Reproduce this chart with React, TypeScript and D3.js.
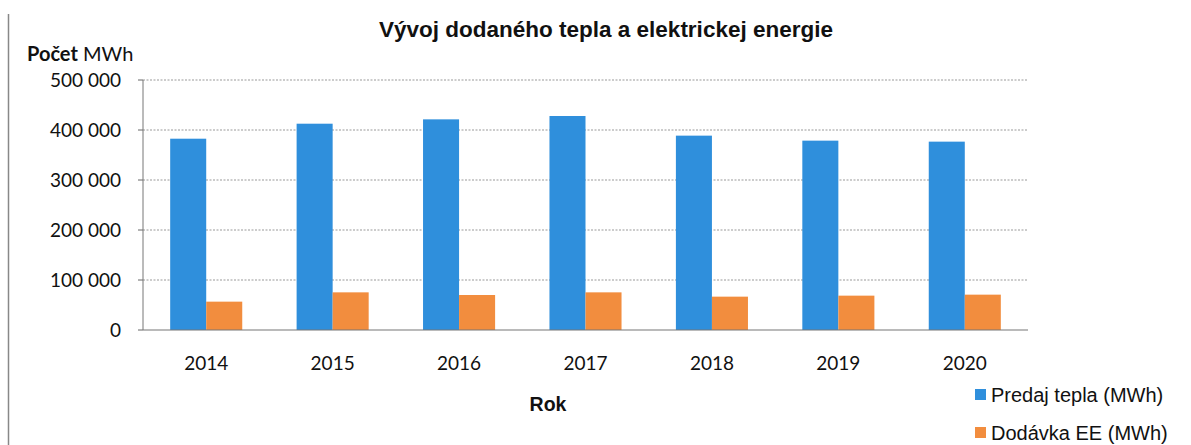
import React from "react";
import * as d3 from "d3";

const years = ["2014", "2015", "2016", "2017", "2018", "2019", "2020"];
const predajTepla = [382600, 412600, 421300, 428000, 388700, 378700, 376700];
const dodavkaEE = [56700, 75300, 70000, 75300, 66700, 68700, 70700];
const seriesNames = ["Predaj tepla (MWh)", "Dodávka EE (MWh)"];
const yTicks = [0, 100000, 200000, 300000, 400000, 500000];

const W = 1191;
const H = 445;
const colors = ["#2f8fdc", "#f28d3e"];
const tickFont = "Lato, 'Open Sans', sans-serif";
const labelFont = "'Liberation Sans', Arial, sans-serif";

const App = () => {
  const left = 143;
  const right = 1028;
  const top = 80;
  const bottom = 330;

  const x = d3.scaleBand().domain(years).range([left, right]).paddingInner(0).paddingOuter(0);
  const y = d3.scaleLinear().domain([0, 500000]).range([bottom, top]);
  const barW = x.bandwidth() * 0.285;
  const fmt = (v: number) => d3.format(",")(v).replace(/,/g, " ");

  const series = [predajTepla, dodavkaEE];

  return (
    <svg width={W} height={H} style={{ position: "absolute", left: 0, top: 0, background: "#fff" }}>
      <line x1={8.5} x2={8.5} y1={14} y2={H} stroke="#888" strokeWidth={1.5} />
      <text x={606} y={37} textAnchor="middle" fontFamily={labelFont} fontWeight="bold" fontSize={22.5} fill="#111">
        Vývoj dodaného tepla a elektrickej energie
      </text>
      <text x={27} y={61} fontFamily={tickFont} fontSize={20} fill="#111">
        <tspan fontWeight="bold">Počet</tspan> MWh
      </text>

      {yTicks.map((t) => (
        <g key={t}>
          {t > 0 && (
            <line x1={left} x2={right} y1={y(t)} y2={y(t)} stroke="#999" strokeWidth={1} strokeDasharray="2,1.5" />
          )}
          <line x1={left - 5} x2={left} y1={y(t)} y2={y(t)} stroke="#666" strokeWidth={1} />
          <text x={121} y={y(t)} dy="0.35em" textAnchor="end" fontFamily={tickFont} fontSize={19} fill="#111">
            {fmt(t)}
          </text>
        </g>
      ))}
      <line x1={left} x2={left} y1={top} y2={bottom} stroke="#777" strokeWidth={1} />

      {years.map((yr, i) => {
        const cx = (x(yr) as number) + x.bandwidth() / 2;
        return (
          <g key={yr}>
            {series.map((s, k) => (
              <rect
                key={k}
                x={cx - barW + k * barW}
                y={y(s[i])}
                width={barW}
                height={bottom - y(s[i])}
                fill={colors[k]}
              />
            ))}
            <text x={cx} y={370} textAnchor="middle" fontFamily={tickFont} fontSize={19} fill="#111">
              {yr}
            </text>
          </g>
        );
      })}
      <line x1={left} x2={right} y1={bottom} y2={bottom} stroke="#777" strokeWidth={1.2} />

      <text x={548} y={411} textAnchor="middle" fontFamily={labelFont} fontWeight="bold" fontSize={19.5} fill="#111">
        Rok
      </text>

      {seriesNames.map((n, k) => (
        <g key={n}>
          <rect x={975} y={389 + k * 38} width={11} height={11} fill={colors[k]} />
          <text x={991} y={402 + k * 38} fontFamily={labelFont} fontSize={20} fill="#111">
            {n}
          </text>
        </g>
      ))}
    </svg>
  );
};

export default App;
